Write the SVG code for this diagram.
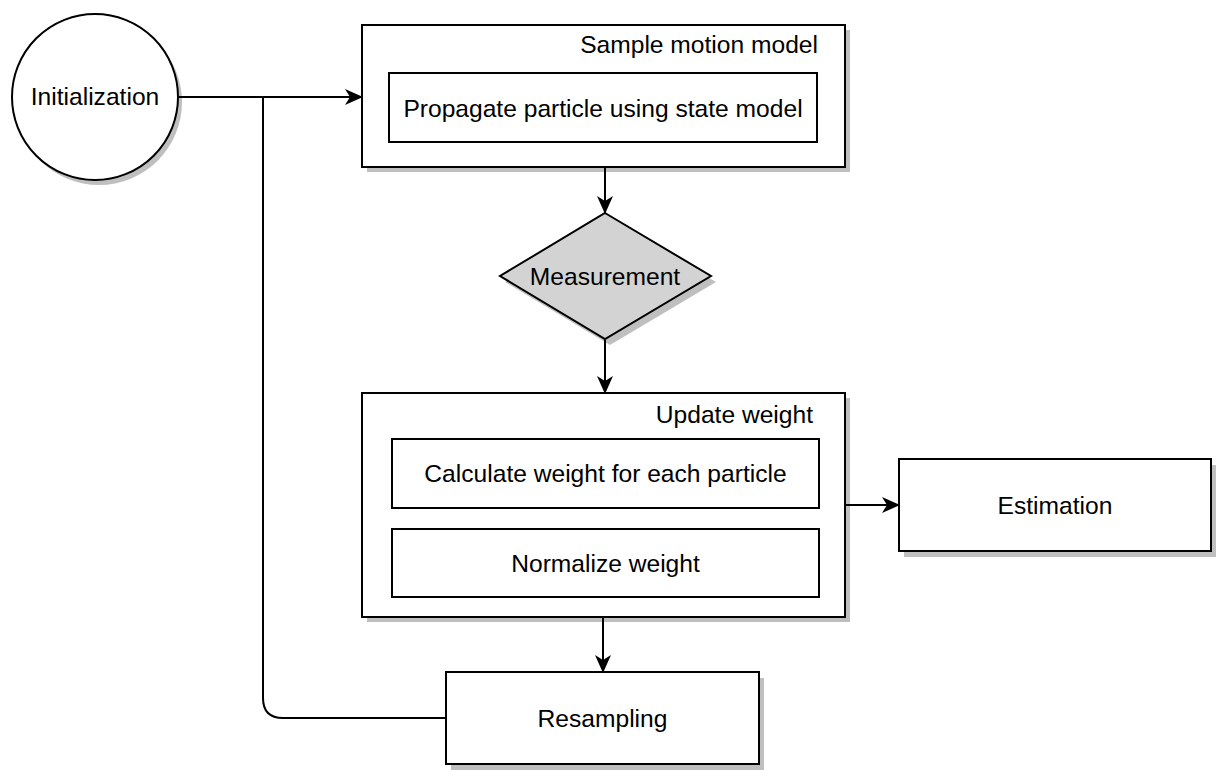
<svg xmlns="http://www.w3.org/2000/svg" width="1228" height="779" viewBox="0 0 1228 779">
<style>
.box{fill:#fff;stroke:#000;stroke-width:2}
.sh{fill:#bfbfbf;stroke:none}
.edge{fill:none;stroke:#000;stroke-width:2}
.t{font-family:"Liberation Sans",Arial,Helvetica,sans-serif;font-size:24.6px;fill:#000}
.c{text-anchor:middle}
.e{text-anchor:end}
</style>
<defs>
<marker id="arr" markerUnits="userSpaceOnUse" markerWidth="18" markerHeight="16" viewBox="0 0 18 16" refX="17" refY="8" orient="auto">
<path d="M18,8 L0,0 L5,8 L0,16 Z" fill="#000"/>
</marker>
</defs>
<rect width="1228" height="779" fill="#fff"/>
<g id="init">
<circle class="sh" cx="99" cy="102" r="83"/>
<circle class="box" cx="95" cy="97" r="83"/>
<text class="t c" x="95" y="105">Initialization</text>
</g>
<g id="sample">
<rect class="sh" x="367" y="30" width="483" height="142"/>
<rect class="box" x="362" y="25" width="483" height="142"/>
<text class="t e" x="818" y="53">Sample motion model</text>
<rect class="box" x="389" y="73" width="428" height="69"/>
<text class="t c" x="603" y="116.5">Propagate particle using state model</text>
</g>
<g id="measurement">
<polygon class="sh" points="610,219 716,282 610,345 505,282"/>
<polygon points="605,213 711,276 605,339 500,276" fill="#d3d3d3" stroke="#000" stroke-width="2"/>
<text class="t c" x="605" y="284.5">Measurement</text>
</g>
<g id="update">
<rect class="sh" x="367" y="398" width="483" height="224"/>
<rect class="box" x="362" y="393" width="483" height="224"/>
<text class="t e" x="813" y="423">Update weight</text>
<rect class="box" x="392" y="439" width="427" height="69"/>
<text class="t c" x="605.5" y="482">Calculate weight for each particle</text>
<rect class="box" x="392" y="529" width="427" height="68"/>
<text class="t c" x="605.5" y="572">Normalize weight</text>
</g>
<g id="estimation">
<rect class="sh" x="904" y="465" width="312" height="92"/>
<rect class="box" x="899" y="459" width="312" height="92"/>
<text class="t c" x="1055" y="514">Estimation</text>
</g>
<g id="resampling">
<rect class="sh" x="451" y="678" width="313" height="92"/>
<rect class="box" x="446" y="672" width="313" height="92"/>
<text class="t c" x="602.5" y="727">Resampling</text>
</g>
<g id="connectors">
<path class="edge" d="M178,97 H362" marker-end="url(#arr)"/>
<path class="edge" d="M605,167 V213" marker-end="url(#arr)"/>
<path class="edge" d="M605,339 V393" marker-end="url(#arr)"/>
<path class="edge" d="M845,505 H899" marker-end="url(#arr)"/>
<path class="edge" d="M603,617 V672" marker-end="url(#arr)"/>
<path class="edge" d="M446,718 H283 Q263,718 263,698 V97"/>
</g>
</svg>
